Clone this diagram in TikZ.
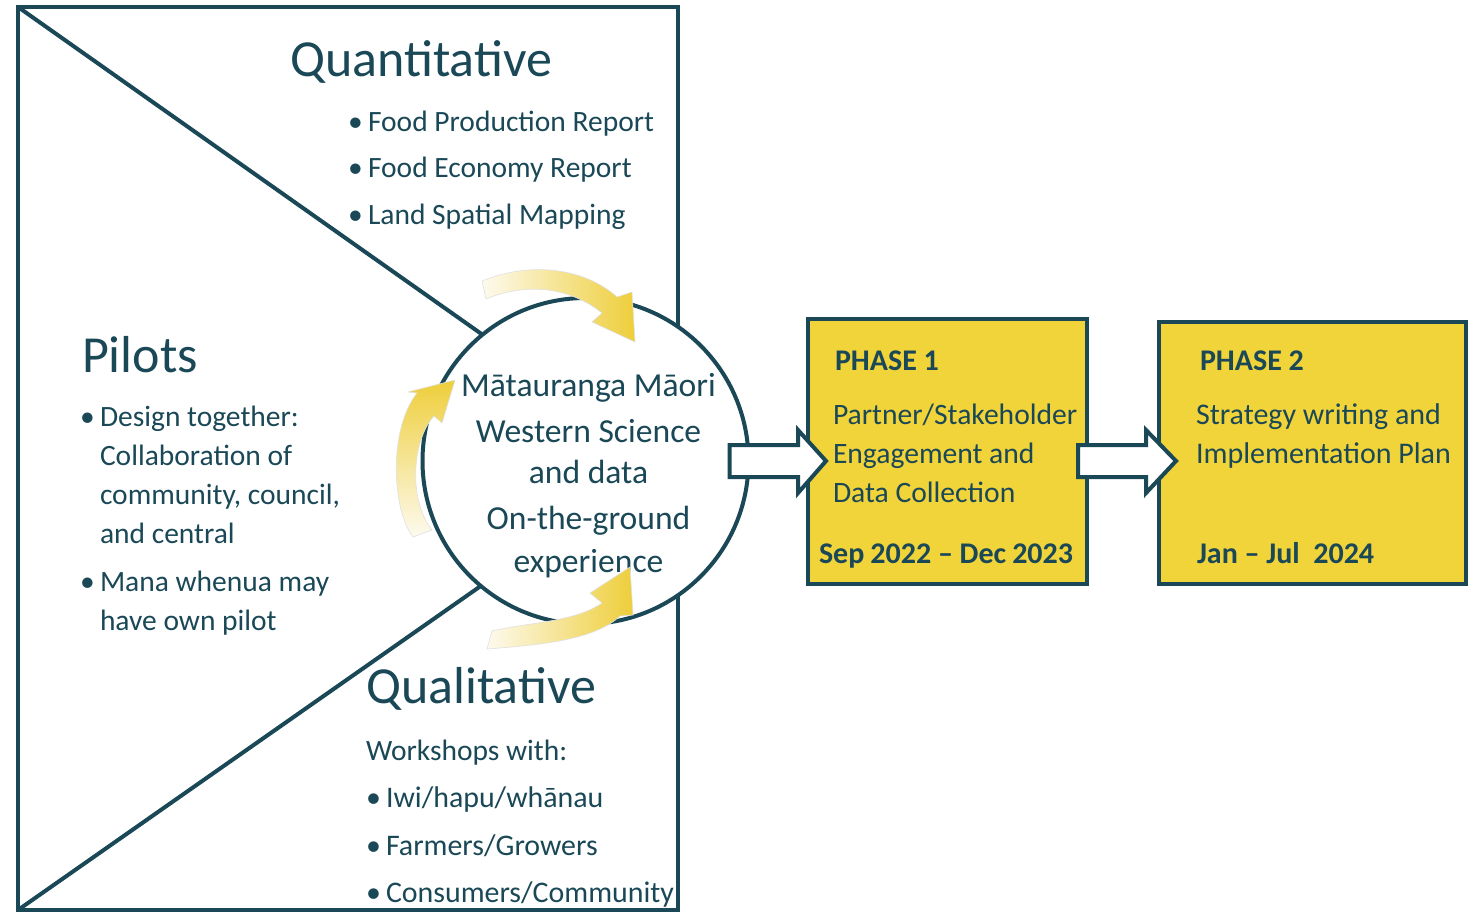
\documentclass[tikz,border=0pt]{standalone}
\usepackage{fontspec}
\setmainfont{Carlito}
\usetikzlibrary{calc}
\definecolor{dkteal}{RGB}{26,72,87}
\definecolor{boxyellow}{RGB}{241,211,58}
\definecolor{ylight}{RGB}{253,250,238}
\definecolor{ydark}{RGB}{238,206,58}
\begin{document}
\begin{tikzpicture}[x=0.5pt,y=-0.5pt,
  frame/.style={draw=dkteal, line width=2pt},
  txt/.style={text=dkteal, inner sep=0pt, outer sep=0pt, anchor=base west, font=\fontsize{14.75}{17}\selectfont},
  wtxt/.style={txt, font=\fontsize{14.95}{17}\selectfont},
  title/.style={txt, font=\fontsize{26}{30}\selectfont},
  ctxt/.style={txt, anchor=base, font=\fontsize{16.8}{19}\selectfont},
  ptxt/.style={txt, font=\fontsize{14.8}{17}\selectfont},
  pbold/.style={txt, font=\bfseries\fontsize{15}{18}\selectfont},
  phasebox/.style={draw=dkteal, line width=2pt, fill=boxyellow, inner sep=0pt},
  blockarrow/.style={draw=dkteal, fill=white, line width=2pt, line join=miter},
  yarrow/.style={draw=black!12, line width=0.3pt}
]
\useasboundingbox (0,0) rectangle (1471,914);
% frame and triangle
\coordinate (TL) at (18,7);
\coordinate (BR) at (678,910);
\coordinate (BL) at (18,910);
\coordinate (ctop) at (585,407);
\coordinate (cbot) at (585,513);
\draw[frame, line join=miter] (TL) rectangle (BR);
\draw[frame] (TL) -- (ctop);
\draw[frame] (BL) -- (cbot);
% circle
\node[circle, draw=dkteal, line width=2pt, fill=white, minimum size=163pt, inner sep=0pt] (C) at (585.5,461) {};
\node[ctxt] (c1) at (588.5,396) {Mātauranga Māori};
\node[ctxt] (c2) at (588.5,442) {Western Science};
\node[ctxt] (c3) at (588.5,483) {and data};
\node[ctxt] (c4) at (588.5,529) {On-the-ground};
\node[ctxt] (c5) at (588.5,572) {experience};
% yellow curved arrows
\shadedraw[yarrow, left color=ylight, right color=ydark]
  (482,281) .. controls (530,261) and (585,268) .. (617,297) -- (632,292) -- (635,342) -- (592,322) -- (602,313)
  .. controls (572,289) and (530,281) .. (486,299) -- cycle;
\shadedraw[yarrow, bottom color=ylight, top color=ydark]
  (413,537) .. controls (392,510) and (388,430) .. (417,393) -- (408,392) -- (455,380) -- (442,423) -- (434,416)
  .. controls (412,440) and (408,500) .. (432,530) -- cycle;
\shadedraw[yarrow, left color=ylight, right color=ydark]
  (492,631) .. controls (530,622) and (575,622) .. (602,603) -- (590,593) -- (630,567) -- (633,615) -- (620,616)
  .. controls (595,640) and (540,645) .. (487,649) -- cycle;
% Quantitative
\node[title] (qt) at (290,77) {Quantitative};
\node[txt] (qb1) at (348,132) {•};
\node[txt] (q1) at (368,132) {Food Production Report};
\node[txt] (qb2) at (348,178) {•};
\node[txt] (q2) at (368,178) {Food Economy Report};
\node[txt] (qb3) at (348,225) {•};
\node[txt] (q3) at (368,225) {Land Spatial Mapping};
% Pilots
\node[title] (pt) at (82,372) {Pilots};
\node[txt] (pb1) at (80,426) {•};
\node[txt] (p1) at (100,426) {Design together:};
\node[txt] (p2) at (100,465) {Collaboration of};
\node[txt] (p3) at (100,504) {community, council,};
\node[txt] (p4) at (100,543) {and central};
\node[txt] (pb2) at (80,591) {•};
\node[txt] (p5) at (100,591) {Mana whenua may};
\node[txt] (p6) at (100,630) {have own pilot};
% Qualitative
\node[title] (ql) at (366,703) {Qualitative};
\node[txt] (w0) at (366,760) {Workshops with:};
\node[wtxt] (wb1) at (366,807) {•};
\node[wtxt] (w1) at (386,807) {Iwi/hapu/whānau};
\node[wtxt] (wb2) at (366,855) {•};
\node[wtxt] (w2) at (386,855) {Farmers/Growers};
\node[wtxt] (wb3) at (366,902) {•};
\node[wtxt] (w3) at (386,902) {Consumers/Community};
% phase boxes
\node[phasebox, minimum width=139.5pt, minimum height=132.5pt] (P1) at (947.5,451.5) {};
\node[phasebox, minimum width=153.5pt, minimum height=131pt] (P2) at (1312.5,453) {};
\node[pbold] (h1) at (835,371) {PHASE 1};
\node[ptxt] (t11) at (833,424) {Partner/Stakeholder};
\node[ptxt] (t12) at (833,463) {Engagement and};
\node[ptxt] (t13) at (833,502) {Data Collection};
\node[pbold] (d1) at (819,563) {Sep\hspace{3pt}2022 – Dec\hspace{3pt}2023};
\node[pbold] (h2) at (1200,371) {PHASE 2};
\node[ptxt, font=\fontsize{15}{17}\selectfont] (t21) at (1196,424) {Strategy writing and};
\node[ptxt, font=\fontsize{15}{17}\selectfont] (t22) at (1196,463) {Implementation Plan};
\node[pbold] (d2) at (1197,563) {Jan~–~Jul~~2024};
% block arrows
\coordinate (a1s) at (729.5,461);
\coordinate (a1t) at (826,461);
\coordinate (a2s) at (1078,461);
\coordinate (a2t) at (1176,461);
\draw[blockarrow] ($(a1s)+(0,-16)$) -- ($(a1t)+(-28,-16)$) -- ($(a1t)+(-28,-31)$) -- (a1t)
  -- ($(a1t)+(-28,32)$) -- ($(a1t)+(-28,16)$) -- ($(a1s)+(0,16)$) -- cycle;
\draw[blockarrow] ($(a2s)+(0,-16)$) -- ($(a2t)+(-30,-16)$) -- ($(a2t)+(-30,-31)$) -- (a2t)
  -- ($(a2t)+(-30,32)$) -- ($(a2t)+(-30,16)$) -- ($(a2s)+(0,16)$) -- cycle;
\end{tikzpicture}
\end{document}
